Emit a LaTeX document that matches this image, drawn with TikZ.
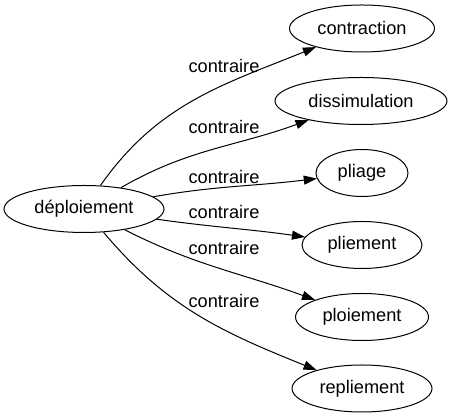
\documentclass[tikz,border=0pt]{standalone}
\usepackage{fontspec}
\setmainfont{Liberation Sans}
\usetikzlibrary{arrows.meta,shapes.geometric}
\begin{document}
\begin{tikzpicture}[x=1pt,y=1pt,line width=1pt,
    word/.style={draw,ellipse,minimum height=47pt,inner sep=0pt,font=\fontsize{18.2}{22}\selectfont},
    rel/.style={anchor=base,inner sep=0pt,font=\fontsize{18.2}{22}\selectfont}]
      \useasboundingbox (0,0) rectangle (452,419);
      \draw
        (84,210) node[word,minimum width=160pt] (0){déploiement}
        (362,390.5) node[word,minimum width=145pt] (1){contraction}
        (361,318) node[word,minimum width=172pt] (2){dissimulation}
        (362,246) node[word,minimum width=92pt] (3){pliage}
        (362,174) node[word,minimum width=120pt] (4){pliement}
        (362,102) node[word,minimum width=133pt] (5){ploiement}
        (362,30.5) node[word,minimum width=140pt] (6){repliement}
        (224,346.3) node[rel] (r1){contraire}
        (224,285) node[rel] (r2){contraire}
        (224,235.7) node[rel] (r3){contraire}
        (224,200.7) node[rel] (r4){contraire}
        (224,164.7) node[rel] (r5){contraire}
        (224,111.7) node[rel] (r6){contraire};
      \begin{scope}[-{Triangle[length=13pt,width=9pt]}]
        \draw (0) to[out=55,in=202] (1);
        \draw (0) to[out=30,in=200] (2);
        \draw (0) to[out=10,in=187] (3);
        \draw (0) to[out=-8,in=172] (4);
        \draw (0) to[out=-27,in=160] (5);
        \draw (0) to[out=-50,in=158] (6);
      \end{scope}
    \end{tikzpicture}
\end{document}
